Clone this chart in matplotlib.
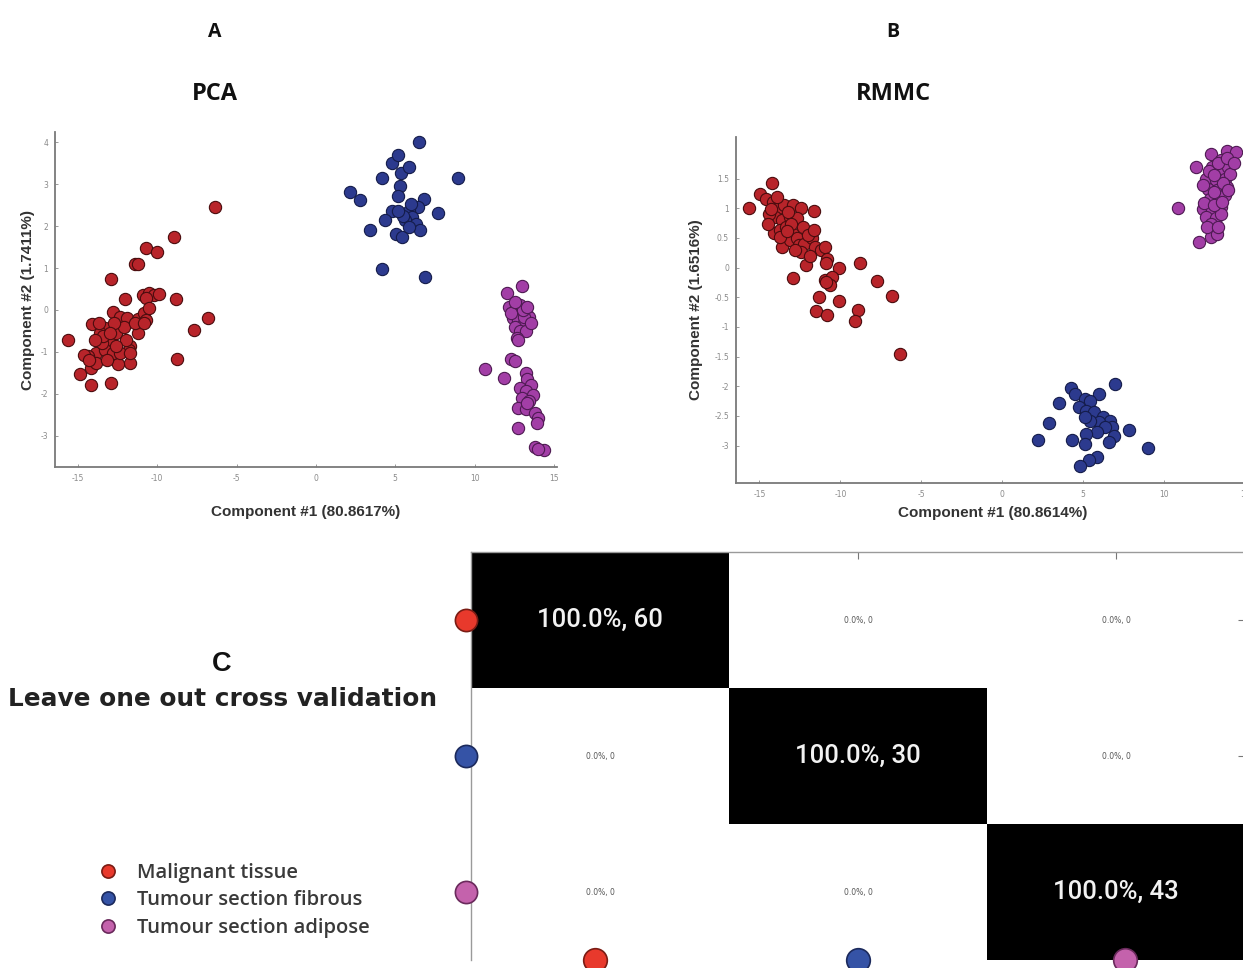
import numpy as np
import matplotlib.pyplot as plt
from matplotlib.lines import Line2D

plt.rcParams['axes.unicode_minus'] = False

# ---- data ----
classes = ['Malignant tissue', 'Tumour section fibrous', 'Tumour section adipose']
counts = [60, 30, 43]

pca_mal_x = [-6.36, -8.96, -10.7, -10.0, -11.4, -11.2, -12.9, -12.05, -8.85, -10.9, -10.5, -10.2, -9.9, -10.7,
             -6.8, -7.7, -8.73, -15.6, -14.9, -14.2, -12.9,
             -12.8, -12.35, -11.9, -11.2, -10.85, -10.7, -14.1, -13.3, -13.6, -13.0, -12.6, -12.1, -11.2, -11.7,
             -11.7, -12.5, -13.85, -14.4, -14.2, -13.85, -13.3, -12.8, -13.5, -14.65, -11.8, -11.4, -12.75,
             -13.4, -13.0, -13.9, -12.0, -12.35, -14.3, -10.85, -10.5, -13.7, -12.6, -11.7, -13.2]
pca_mal_y = [2.45, 1.74, 1.48, 1.38, 1.09, 1.09, 0.75, 0.26, 0.26, 0.36, 0.41, 0.36, 0.38, 0.28,
             -0.18, -0.47, -1.16, -0.71, -1.52, -1.78, -1.74,
             -0.04, -0.16, -0.2, -0.22, -0.08, -0.24, -0.33, -0.44, -0.55, -0.71, -0.55, -0.4, -0.55, -0.87,
             -1.27, -1.3, -1.03, -1.1, -1.38, -1.27, -0.95, -1.03, -0.79, -1.07, -0.95, -0.32, -0.32,
             -0.63, -0.55, -0.71, -0.71, -1.03, -1.19, -0.32, 0.04, -0.3, -0.87, -1.03, -1.19]
pca_fib_x = [6.47, 8.96, 2.12, 2.81, 4.19, 4.82, 5.2, 5.35, 5.85, 5.3, 5.16, 4.82, 4.35, 3.43, 5.05, 5.44,
             6.82, 6.43, 5.85, 6.08, 5.62, 6.31, 6.54, 7.7, 4.19, 6.89, 5.97, 5.5, 5.16, 5.85]
pca_fib_y = [4.0, 3.14, 2.81, 2.63, 3.14, 3.52, 3.69, 3.28, 3.42, 2.97, 2.71, 2.36, 2.15, 1.9, 1.82, 1.74,
             2.65, 2.45, 2.37, 2.22, 2.14, 2.06, 1.9, 2.31, 0.99, 0.78, 2.53, 2.25, 2.37, 1.98]
pca_adi_x = [12.07, 12.99, 12.19, 12.53, 12.88, 13.23, 13.41, 12.42, 12.76, 13.11, 12.53, 12.88, 13.23, 12.65,
             12.72, 12.3, 12.58, 10.69, 11.84, 13.23, 13.34, 13.57, 12.88, 13.23, 13.69, 13.0, 13.46, 12.76,
             13.23, 13.8, 14.03, 13.92, 12.72, 13.8, 14.38, 14.03, 13.34, 13.11, 12.3, 13.04, 13.57, 12.53, 13.34]
pca_adi_y = [0.4, 0.58, 0.08, 0.0, 0.12, -0.04, -0.16, -0.2, -0.24, -0.32, -0.4, -0.51, -0.51, -0.67,
             -0.71, -1.17, -1.23, -1.42, -1.62, -1.5, -1.66, -1.78, -1.86, -1.94, -2.02, -2.1, -2.18, -2.33,
             -2.37, -2.45, -2.57, -2.71, -2.83, -3.28, -3.35, -3.32, -2.21, -0.16, -0.08, 0.0, -0.32, 0.2, 0.08]

rmmc_mal_x = [-15.65, -14.97, -14.24, -14.62, -14.17, -13.83, -13.48, -12.92, -12.46, -11.62,
              -14.05, -13.6, -13.14, -12.69, -14.12, -13.71, -13.37, -12.92, -13.6, -13.14,
              -12.69, -12.57, -12.23, -11.78, -11.55, -11.21, -10.98, -12.12, -12.92, -10.8,
              -10.87, -10.07, -8.77, -10.98, -10.52, -10.64, -7.72, -6.81, -11.32, -10.11,
              -11.48, -10.8, -8.93, -9.09, -6.31, -14.4, -13.94, -13.25, -12.34, -12.0,
              -13.71, -13.03, -11.66, -14.5, -12.46, -13.3, -12.8, -11.9, -10.9, -14.3]
rmmc_mal_y = [1.01, 1.24, 1.42, 1.16, 1.11, 1.0, 1.05, 1.05, 1.0, 0.96,
              0.85, 0.8, 0.85, 0.83, 0.58, 0.63, 0.69, 0.57, 0.35, 0.46,
              0.49, 0.38, 0.4, 0.49, 0.35, 0.29, 0.35, 0.04, -0.17, 0.15,
              0.08, 0.0, 0.08, -0.21, -0.16, -0.3, -0.22, -0.48, -0.49, -0.57,
              -0.73, -0.8, -0.71, -0.9, -1.46, 0.9, 1.19, 0.94, 0.69, 0.55,
              0.52, 0.74, 0.63, 0.74, 0.26, 0.62, 0.3, 0.2, -0.25, 0.98]
rmmc_fib_x = [6.95, 4.24, 4.51, 5.08, 5.99, 5.42, 3.49, 4.74, 5.19, 5.65, 6.22, 6.67, 6.79, 5.99, 5.42,
              5.08, 2.87, 7.81, 6.36, 5.88, 6.9, 5.19, 2.23, 4.33, 5.08, 6.56, 9.02, 5.88, 5.38, 4.78]
rmmc_fib_y = [-1.96, -2.03, -2.13, -2.21, -2.13, -2.24, -2.28, -2.35, -2.41, -2.44, -2.52, -2.58, -2.69, -2.6,
              -2.58, -2.52, -2.62, -2.74, -2.69, -2.77, -2.83, -2.8, -2.9, -2.91, -2.97, -2.94, -3.04, -3.19,
              -3.25, -3.34]
rmmc_adi_x = [10.84, 11.98, 12.89, 13.85, 14.42, 13.5, 12.94, 13.39, 13.96, 12.6, 13.17, 13.74, 14.08, 12.71,
              13.28, 13.85, 12.83, 13.39, 13.74, 12.37, 12.94, 13.5, 12.6, 13.17, 12.89, 12.16, 12.92, 13.28,
              13.5, 12.48, 13.05, 13.62, 12.78, 13.35, 13.85, 13.1, 12.64, 13.32, 13.6, 12.37, 13.96, 13.05, 14.3]
rmmc_adi_y = [1.01, 1.7, 1.92, 1.96, 1.95, 1.81, 1.7, 1.64, 1.7, 1.5, 1.47, 1.5, 1.58, 1.33,
              1.3, 1.36, 1.16, 1.14, 1.22, 0.99, 0.97, 1.02, 0.85, 0.83, 0.74, 0.43, 0.52, 0.57,
              0.91, 1.08, 1.28, 1.42, 1.62, 1.76, 1.84, 1.05, 0.69, 0.69, 1.11, 1.39, 1.3, 1.56, 1.76]

# confusion matrix (rows = true, cols = predicted)
conf = np.array([[60, 0, 0], [0, 30, 0], [0, 0, 43]])

# ---- styling ----
scat_fill = ['#b8242a', '#2c3a8e', '#a23ea6']
scat_edge = ['#4a0c0e', '#141c4a', '#4e1a52']
mark_fill = ['#e8392c', '#3553a6', '#c462ac']
mark_edge = ['#7a1c14', '#1c2a5c', '#6a2a5c']
bold_font = 'Liberation Sans'

fig = plt.figure(figsize=(12.43, 9.68), dpi=100)
W, H = 1243, 968


def px_axes(l, t, r, b):
    return fig.add_axes([l / W, 1 - b / H, (r - l) / W, (b - t) / H])


def style_scatter(ax):
    for s in ['top', 'right']:
        ax.spines[s].set_visible(False)
    for s in ['left', 'bottom']:
        ax.spines[s].set_color('#7a7a7a')
        ax.spines[s].set_linewidth(1.3)
    ax.tick_params(direction='in', length=2.5, width=0.6, colors='#8a8a8a', labelsize=5.5, pad=5)


def scatter_panel(ax, data):
    for i, (x, y) in enumerate(data):
        ax.scatter(x, y, s=78, c=scat_fill[i], edgecolors=scat_edge[i], linewidths=0.8, zorder=3)


# Panel A: PCA
axA = px_axes(55, 132, 557, 467)
scatter_panel(axA, [(pca_mal_x, pca_mal_y), (pca_fib_x, pca_fib_y), (pca_adi_x, pca_adi_y)])
axA.set_xlim(-16.45, 15.2)
axA.set_ylim(-3.75, 4.25)
axA.set_xticks(range(-15, 16, 5))
axA.set_yticks(range(-3, 5))
style_scatter(axA)
axA.set_xlabel('Component #1 (80.8617%)', fontsize=11, fontweight='bold', family=bold_font,
               color='#333333', labelpad=16)
axA.set_ylabel('Component #2 (1.7411%)', fontsize=11, fontweight='bold', family=bold_font,
               color='#333333', labelpad=4)

# Panel B: RMMC
axB = px_axes(736, 137, 1250, 483)
scatter_panel(axB, [(rmmc_mal_x, rmmc_mal_y), (rmmc_fib_x, rmmc_fib_y), (rmmc_adi_x, rmmc_adi_y)])
axB.set_xlim(-16.45, 15.3)
axB.set_ylim(-3.63, 2.2)
axB.set_xticks(range(-15, 16, 5))
axB.set_yticks(np.arange(-3, 1.6, 0.5))
axB.set_yticklabels(['%g' % v for v in np.arange(-3, 1.6, 0.5)])
style_scatter(axB)
axB.set_xlabel('Component #1 (80.8614%)', fontsize=11, fontweight='bold', family=bold_font,
               color='#333333', labelpad=5)
axB.set_ylabel('Component #2 (1.6516%)', fontsize=11, fontweight='bold', family=bold_font,
               color='#333333', labelpad=8)

# panel titles
for x, letter, name in [(215, 'A', 'PCA'), (893, 'B', 'RMMC')]:
    fig.text(x / W, 1 - 32 / H, letter, ha='center', va='center', fontsize=14,
             fontweight='bold', family='Open Sans', color='#111111')
    fig.text(x / W, 1 - 94 / H, name, ha='center', va='center', fontsize=17,
             fontweight='bold', family='Open Sans', color='#111111')

# Panel C: confusion matrix
axC = px_axes(471, 552, 1245, 960)
pct = conf / conf.sum(axis=1, keepdims=True) * 100
axC.imshow(pct, cmap='gray_r', vmin=0, vmax=100, aspect='auto', interpolation='nearest')
for i in range(3):
    for j in range(3):
        if i == j:
            axC.text(j, i, '%.1f%%, %d' % (pct[i, j], conf[i, j]), ha='center', va='center',
                     color='#f2f2f2', fontsize=18.5, fontweight='medium', family='Roboto')
        else:
            axC.text(j, i, '%.1f%%, %d' % (pct[i, j], conf[i, j]), ha='center', va='center',
                     color='#555555', fontsize=5.5, family='DejaVu Sans')
axC.set_xlim(-0.5, 2.5)
axC.set_ylim(2.5, -0.5)
for s in ['bottom', 'right']:
    axC.spines[s].set_visible(False)
for s in ['top', 'left']:
    axC.spines[s].set_color('#9a9a9a')
    axC.spines[s].set_linewidth(1.0)
axC.xaxis.tick_top()
axC.set_xticks([1, 2])
axC.set_xticklabels([])
axC.yaxis.tick_right()
axC.set_yticks([0, 1])
axC.set_yticklabels([])
axC.tick_params(direction='in', length=5, width=0.8, colors='#777777')
# coloured class markers in place of tick labels
bottom_shift = [-0.02, 0.0, 0.035]
for i in range(3):
    axC.plot(-0.52, i, 'o', ms=16, mfc=mark_fill[i], mec=mark_edge[i], mew=1.2, clip_on=False, zorder=5)
    axC.plot(i + bottom_shift[i], 2.5, 'o', ms=17, mfc=mark_fill[i], mec=mark_edge[i], mew=1.2,
             clip_on=False, zorder=5)

fig.text(222 / W, 1 - 664 / H, 'C', ha='center', va='center', fontsize=19.5, fontweight='bold',
         family=bold_font, color='#111111')
fig.text(223 / W, 1 - 699 / H, 'Leave one out cross validation', ha='center', va='center',
         fontsize=17.8, fontweight='bold', family='DejaVu Sans', color='#222222')

handles = [Line2D([], [], ls='none', marker='o', ms=9.5, mfc=mark_fill[i], mec=mark_edge[i], mew=1.2)
           for i in range(3)]
fig.legend(handles, classes, loc='upper left', bbox_to_anchor=(90 / W, 1 - 855 / H), frameon=False,
           prop={'family': 'Open Sans', 'size': 14.5, 'weight': 'semibold'}, labelcolor='#3a3a3a',
           handletextpad=0.95, labelspacing=0.36, handlelength=1.0, borderaxespad=0)

fig.savefig('out.png', dpi=100, facecolor='white')
